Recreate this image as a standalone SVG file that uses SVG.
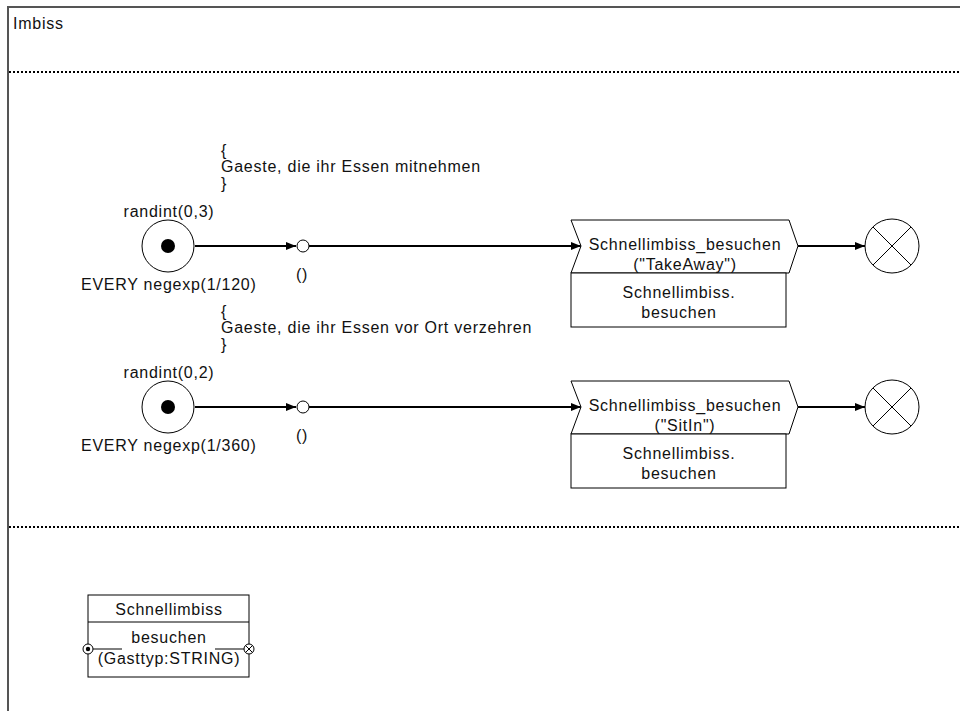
<svg xmlns="http://www.w3.org/2000/svg" width="960" height="711" viewBox="0 0 960 711">
  <defs>
    <style>
      text { font-family: "Liberation Sans", Arial, sans-serif; font-size: 16px; letter-spacing: 0.75px; fill: #111; }
      .mid { text-anchor: middle; }
      .frame { fill: none; stroke: #555; stroke-width: 2; }
      .sep { fill: none; stroke: #000; stroke-width: 2; stroke-dasharray: 2 2; }
      .shape { fill: #fff; stroke: #000; stroke-width: 1; }
      .flow { fill: none; stroke: #000; stroke-width: 2; }
      .thin { fill: none; stroke: #000; stroke-width: 1; }
    </style>
    <marker id="arrow" viewBox="0 0 10 8" refX="10" refY="4" markerWidth="10" markerHeight="8" markerUnits="userSpaceOnUse" orient="auto">
      <path d="M0,0 L10,4 L0,8 Z" fill="#000"/>
    </marker>
  </defs>

  <rect width="960" height="711" fill="#fff"/>

  <!-- Frame and compartment separators -->
  <g id="frame">
    <path class="frame" d="M8,711 V7 H960"/>
    <text x="13" y="29">Imbiss</text>
    <line class="sep" x1="9" y1="72" x2="960" y2="72"/>
    <line class="sep" x1="9" y1="527" x2="960" y2="527"/>
  </g>

  <!-- Connectors -->
  <g id="connectors">
    <line class="flow" x1="195" y1="246" x2="296" y2="246" marker-end="url(#arrow)"/>
    <line class="flow" x1="309" y1="246" x2="581" y2="246" marker-end="url(#arrow)"/>
    <line class="flow" x1="798" y1="246" x2="865" y2="246" marker-end="url(#arrow)"/>
    <line class="flow" x1="195" y1="407" x2="296" y2="407" marker-end="url(#arrow)"/>
    <line class="flow" x1="309" y1="407" x2="581" y2="407" marker-end="url(#arrow)"/>
    <line class="flow" x1="798" y1="407" x2="865" y2="407" marker-end="url(#arrow)"/>
  </g>

  <!-- Row 1: take-away guests -->
  <g id="comment1">
    <text x="221" y="156">{</text>
    <text x="221" y="172">Gaeste, die ihr Essen mitnehmen</text>
    <text x="221" y="189">}</text>
  </g>
  <g id="start1">
    <circle class="shape" cx="168" cy="246" r="26"/>
    <circle cx="168" cy="246" r="7" fill="#000"/>
    <text class="mid" x="169" y="217">randint(0,3)</text>
    <text x="81" y="290">EVERY negexp(1/120)</text>
  </g>
  <g id="state1">
    <circle class="shape" cx="303" cy="246" r="6"/>
    <text class="mid" x="302" y="280">()</text>
  </g>
  <g id="call1">
    <path class="shape" d="M571,220 H789 L798,246 L789,273 H571 L581,246 Z"/>
    <rect class="shape" x="571" y="273" width="215" height="54"/>
    <text class="mid" x="685" y="250">Schnellimbiss_besuchen</text>
    <text class="mid" x="685" y="270">("TakeAway")</text>
    <text class="mid" x="679" y="298">Schnellimbiss.</text>
    <text class="mid" x="679" y="318">besuchen</text>
  </g>
  <g id="end1">
    <circle class="shape" cx="892" cy="246" r="27"/>
    <path class="thin" d="M873,227 L911,265 M911,227 L873,265"/>
  </g>

  <!-- Row 2: sit-in guests -->
  <g id="comment2">
    <text x="221" y="317">{</text>
    <text x="221" y="333">Gaeste, die ihr Essen vor Ort verzehren</text>
    <text x="221" y="350">}</text>
  </g>
  <g id="start2">
    <circle class="shape" cx="168" cy="407" r="26"/>
    <circle cx="168" cy="407" r="7" fill="#000"/>
    <text class="mid" x="169" y="378">randint(0,2)</text>
    <text x="81" y="451">EVERY negexp(1/360)</text>
  </g>
  <g id="state2">
    <circle class="shape" cx="303" cy="407" r="6"/>
    <text class="mid" x="302" y="441">()</text>
  </g>
  <g id="call2">
    <path class="shape" d="M571,381 H789 L798,407 L789,434 H571 L581,407 Z"/>
    <rect class="shape" x="571" y="434" width="215" height="54"/>
    <text class="mid" x="685" y="411">Schnellimbiss_besuchen</text>
    <text class="mid" x="685" y="431">("SitIn")</text>
    <text class="mid" x="679" y="459">Schnellimbiss.</text>
    <text class="mid" x="679" y="479">besuchen</text>
  </g>
  <g id="end2">
    <circle class="shape" cx="892" cy="407" r="27"/>
    <path class="thin" d="M873,388 L911,426 M911,388 L873,426"/>
  </g>

  <!-- Class definition -->
  <g id="class-schnellimbiss">
    <rect class="shape" x="88" y="595" width="161" height="82"/>
    <line class="thin" x1="88" y1="622" x2="249" y2="622"/>
    <text class="mid" x="169" y="615">Schnellimbiss</text>
    <line class="thin" x1="88" y1="649" x2="122" y2="649"/>
    <line class="thin" x1="215" y1="649" x2="249" y2="649"/>
    <text class="mid" x="169" y="643">besuchen</text>
    <text class="mid" x="169" y="664">(Gasttyp:STRING)</text>
    <circle class="shape" cx="88" cy="649" r="5"/>
    <circle cx="88" cy="649" r="2.2" fill="#000"/>
    <circle class="shape" cx="249" cy="649" r="5"/>
    <path class="thin" d="M245.5,645.5 L252.5,652.5 M252.5,645.5 L245.5,652.5"/>
  </g>
</svg>
